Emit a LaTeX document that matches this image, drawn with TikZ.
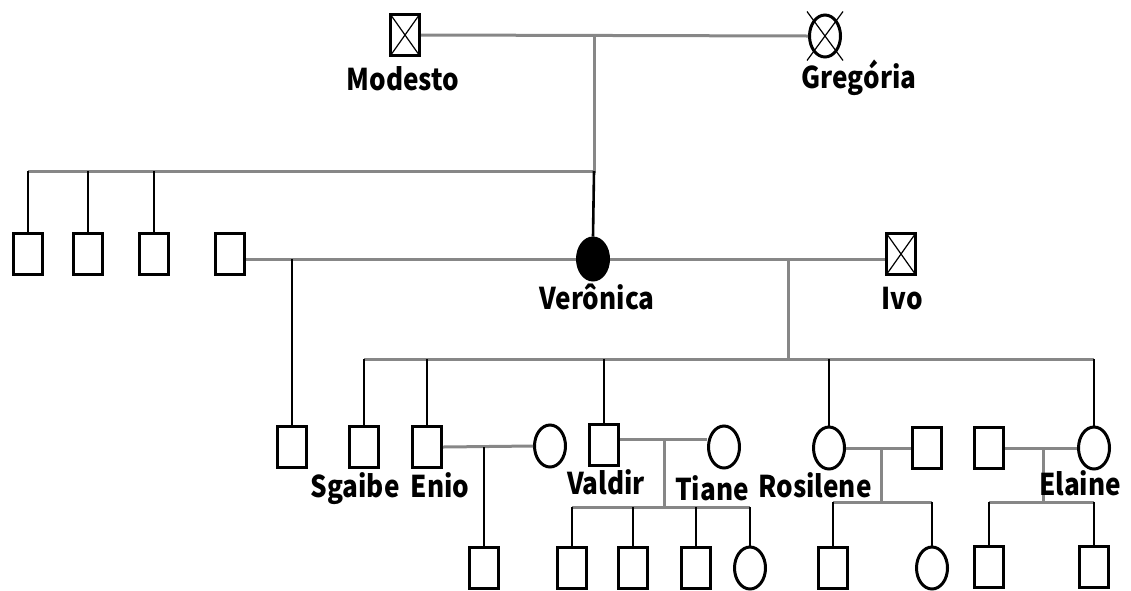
\documentclass[tikz,border=0pt]{standalone}
\usepackage{fontspec}
\newfontfamily\namefont{Noto Sans CJK KR}[FakeStretch=0.87]
\usepackage{tikz}
\usetikzlibrary{shapes.geometric,positioning}
\definecolor{linegray}{RGB}{135,135,135}

\begin{document}
\begin{tikzpicture}[x=1pt,y=-1pt,font=\namefont\bfseries\fontsize{30}{32}\selectfont,
		male/.style={draw, line width=3pt, minimum width=29pt, minimum height=41pt, inner sep=0pt},
		female/.style={male, ellipse, minimum width=31pt, minimum height=42pt},
		dead/.style={path picture={\draw[line width=1.2pt] (path picture bounding box.south west) -- (path picture bounding box.north east) (path picture bounding box.north west) -- (path picture bounding box.south east);}},
		mline/.style={draw=linegray, line width=3pt},
		cline/.style={draw=black, line width=2.6pt},
		pname/.style={anchor=base, inner sep=0pt},]
		\useasboundingbox (0,0) rectangle (1131,590);

		% first generation
		\node[male, dead] (modesto) at (405,35) {};
		\node[female] (gregoria) at (825,36) {};
		\draw[line width=1.2pt] ([shift={(-1,-2)}]gregoria.west |- gregoria.north) -- ([shift={(1,2)}]gregoria.east |- gregoria.south);
		\draw[line width=1.2pt] ([shift={(1,-2)}]gregoria.east |- gregoria.north) -- ([shift={(-1,2)}]gregoria.west |- gregoria.south);

		% second generation
		\node[male] (s1) at (28,254) {};
		\node[male] (s2) at (88,254) {};
		\node[male] (s3) at (154,254) {};
		\node[male] (s4) at (230,254) {};
		\node[female, fill=black] (veronica) at (593,259) {};
		\node[male, dead] (ivo) at (901,254) {};

		% third generation
		\node[male] (c0) at (292,447) {};
		\node[male] (sgaibe) at (364,447) {};
		\node[male] (enio) at (427,447) {};
		\node[female] (eniow) at (550,446) {};
		\node[male] (valdir) at (604,445) {};
		\node[female] (tiane) at (724,447) {};
		\node[female] (rosilene) at (829,448) {};
		\node[male] (rosh) at (927,448) {};
		\node[male] (elah) at (989,448) {};
		\node[female] (elaine) at (1094,448) {};

		% fourth generation
		\node[male] (e1) at (484,568) {};
		\node[male] (v1) at (572,568) {};
		\node[male] (v2) at (633,568) {};
		\node[male] (v3) at (696,568) {};
		\node[female] (v4) at (750,568) {};
		\node[male] (r1) at (833,568) {};
		\node[female] (r2) at (932,568) {};
		\node[male] (l1) at (989,567) {};
		\node[male] (l2) at (1094,567) {};

		% junctions
		\coordinate (j1) at (594,35);
		\coordinate (sib1) at (594,171);
		\coordinate (j2) at (292,259);
		\coordinate (j3) at (788,259);
		\coordinate (sib3) at (788,359);
		\coordinate (j4) at (484,447);
		\coordinate (j5) at (664,439);
		\coordinate (sib5) at (664,507);
		\coordinate (j6) at (881,448);
		\coordinate (sib6) at (881,502);
		\coordinate (j7) at (1043,448);
		\coordinate (sib7) at (1043,502);

		% Modesto x Gregoria
		\draw[mline] (modesto.east) -- (gregoria.west);
		\draw[mline] (j1) -- (sib1) -- (sib1 -| s1);
		\foreach \c in {s1,s2,s3} \draw[cline] (sib1 -| \c) -- (\c.north);
		\draw[cline] (sib1) -- (veronica.north);

		% Veronica's two unions
		\draw[mline] (s4.east |- veronica.west) -- (veronica.west);
		\draw[mline] (veronica.east) -- (veronica.east -| ivo.west);
		\draw[cline] (j2) -- (c0.north);
		\draw[mline] (j3) -- (sib3);
		\draw[mline] (sib3 -| sgaibe) -- (sib3 -| elaine);
		\foreach \c in {sgaibe,enio,valdir,rosilene,elaine} \draw[cline] (sib3 -| \c) -- (\c.north);

		% Enio
		\draw[mline] (enio.east) -- (eniow.west);
		\draw[cline] (j4) -- (e1.north);

		% Valdir x Tiane
		\draw[mline] (valdir.east |- j5) -- (tiane.west |- j5);
		\draw[mline] (j5) -- (sib5);
		\draw[mline] (sib5 -| v1) -- (sib5 -| v4);
		\foreach \c in {v1,v2,v3,v4} \draw[cline] (sib5 -| \c) -- (\c.north);

		% Rosilene
		\draw[mline] (rosilene.east) -- (rosh.west);
		\draw[mline] (j6) -- (sib6);
		\draw[mline] (sib6 -| r1) -- (sib6 -| r2);
		\foreach \c in {r1,r2} \draw[cline] (sib6 -| \c) -- (\c.north);

		% Elaine
		\draw[mline] (elah.east) -- (elaine.west);
		\draw[mline] (j7) -- (sib7);
		\draw[mline] (sib7 -| l1) -- (sib7 -| l2);
		\foreach \c in {l1,l2} \draw[cline] (sib7 -| \c) -- (\c.north);

		% names
		\node[pname] (nmodesto) at (403,90) {Modesto};
		\node[pname] (ngregoria) at (859,88) {Gregória};
		\node[pname] (nveronica) at (597,309) {Verônica};
		\node[pname] (nivo) at (902,309) {Ivo};
		\node[pname] (nsgaibe) at (355,497) {Sgaibe};
		\node[pname] (nenio) at (440,497) {Enio};
		\node[pname] (nvaldir) at (606,494) {Valdir};
		\node[pname] (ntiane) at (712,500) {Tiane};
		\node[pname] (nrosilene) at (815,497) {Rosilene};
		\node[pname] (nelaine) at (1080,495) {Elaine};
\end{tikzpicture}
\end{document}
